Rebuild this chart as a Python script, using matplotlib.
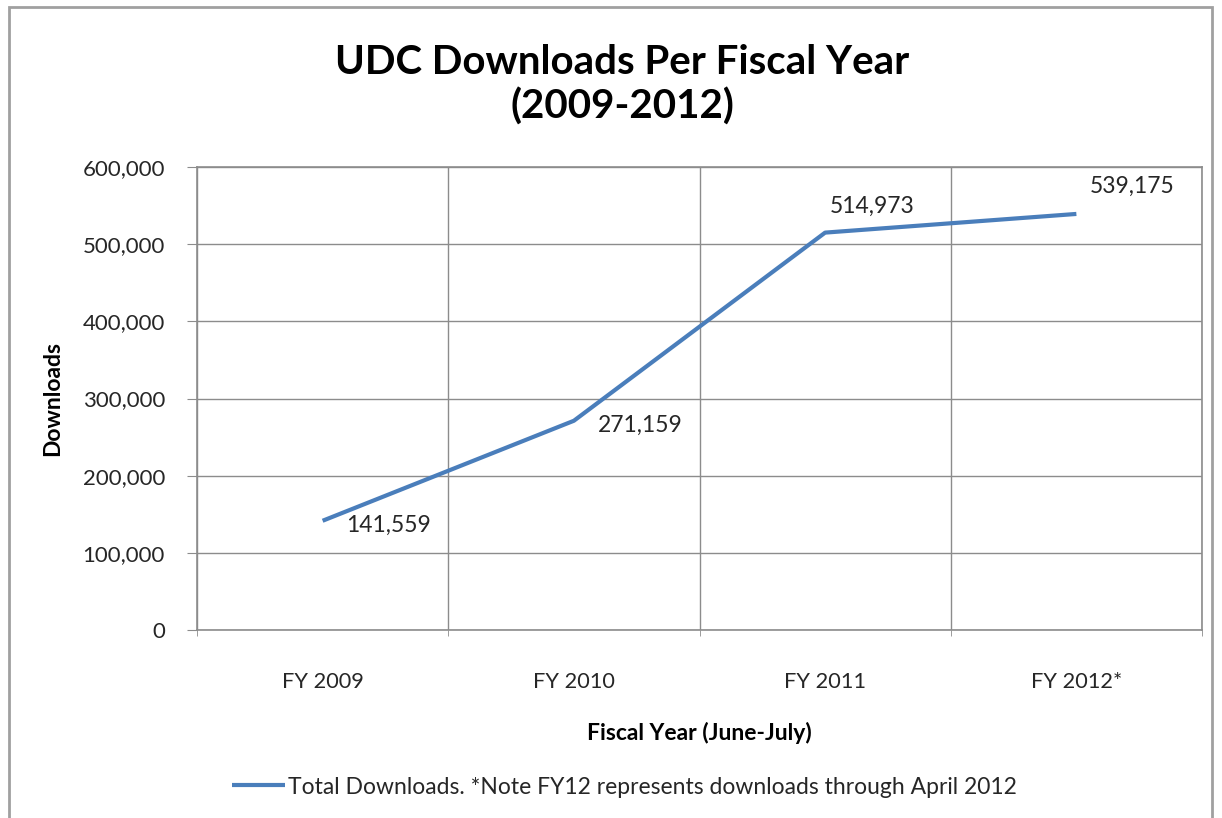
import numpy as np
import matplotlib
matplotlib.use('Agg')
import matplotlib.pyplot as plt
from matplotlib.patches import Rectangle
from matplotlib.ticker import FuncFormatter, FixedLocator

plt.rcParams['font.family'] = ['Lato', 'DejaVu Sans']

# data
years = ['FY 2009', 'FY 2010', 'FY 2011', 'FY 2012*']
downloads = [141559, 271159, 514973, 539175]
# label offsets (points) relative to each point
label_offsets = [(17, -3), (17, -3), (3, 19), (10, 20)]

blue = '#4A7EBB'
grid_gray = '#8C8C8C'
text_col = '#262626'

fig = plt.figure(figsize=(12.22, 8.18), dpi=100)
ax = fig.add_axes([197 / 1222, 1 - 630 / 818, (1202 - 197) / 1222, (630 - 167) / 818])

x = np.arange(len(years))
ax.plot(x, downloads, color=blue, linewidth=3.0, solid_capstyle='butt',
        label='Total Downloads. *Note FY12 represents downloads through April 2012')

for xi, v, off in zip(x, downloads, label_offsets):
    ax.annotate(f'{v:,}', (xi, v), xytext=off, textcoords='offset points',
                ha='left', va='center', fontsize=16.5, color=text_col)

ax.set_xlim(-0.5, len(years) - 0.5)
ax.set_ylim(0, 600000)
ax.set_yticks(np.arange(0, 600001, 100000))
ax.yaxis.set_major_formatter(FuncFormatter(lambda v, p: f'{int(v):,}'))
ax.set_xticks(x)
ax.set_xticklabels(years)
ax.xaxis.set_minor_locator(FixedLocator(np.arange(-0.5, len(years), 1.0)))

ax.tick_params(axis='x', which='major', length=0, pad=30, labelsize=15.7, labelcolor=text_col)
ax.tick_params(axis='x', which='minor', length=4, color=grid_gray, direction='out')
ax.tick_params(axis='y', length=7, color=grid_gray, pad=16, labelsize=16, labelcolor=text_col)

ax.grid(True, axis='y', color=grid_gray, linewidth=1)
ax.grid(True, axis='x', which='minor', color=grid_gray, linewidth=1)
for s in ax.spines.values():
    s.set_color(grid_gray)
    s.set_linewidth(1.2)
ax.set_axisbelow(True)

ax.set_xlabel('Fiscal Year (June-July)', fontsize=16.5, fontweight='bold', labelpad=22, color='black')
ax.set_ylabel('Downloads', fontsize=16.5, fontweight='bold', labelpad=14, color='black')

fig.text(0.509, 1 - 85 / 818, 'UDC Downloads Per Fiscal Year\n(2009-2012)',
         ha='center', va='center', fontsize=29, fontweight='bold', linespacing=1.2)

fig.legend(loc='center', bbox_to_anchor=(0.511, 1 - 787 / 818), frameon=False,
           fontsize=16.5, handlelength=2.3, handletextpad=0.15, labelcolor=text_col)

# outer chart border
fig.patches.append(Rectangle((9 / 1222, -0.05), (1212 - 9) / 1222, 1 - 7 / 818 + 0.05,
                             transform=fig.transFigure, fill=False,
                             edgecolor='#A0A0A0', linewidth=2))

fig.savefig('out.png', dpi=100)
